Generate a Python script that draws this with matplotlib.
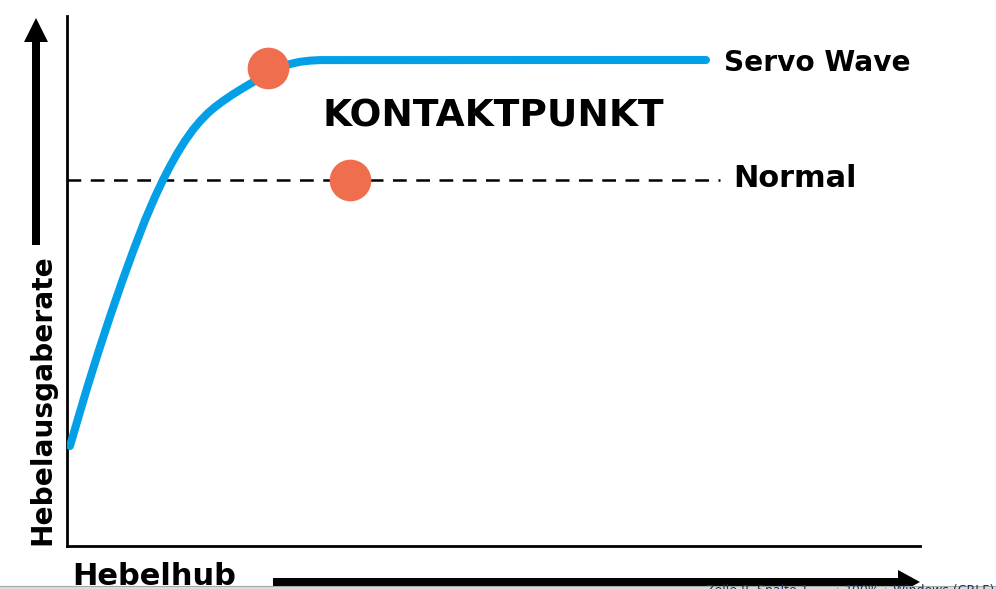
import matplotlib
matplotlib.use('Agg')
import matplotlib.pyplot as plt
from matplotlib.patches import FancyArrow, Rectangle

# curve "Servo Wave" (x: lever travel 0-100, y: output rate 0-100)
SERVO_X = [0.35, 1.29, 2.34, 3.63, 5.04, 6.45, 7.74, 9.14, 10.32, 11.25,
           12.08, 12.90, 13.83, 14.77, 15.59, 16.53, 17.35, 18.29, 19.34,
           20.28, 21.45, 22.63, 23.80, 24.97, 26.14, 27.32, 28.49, 29.66,
           74.91]
SERVO_Y = [18.87, 24.04, 29.74, 36.38, 43.28, 49.85, 55.57, 61.45, 65.89,
           69.06, 71.64, 74.02, 76.43, 78.55, 80.13, 81.70, 82.83, 83.96,
           85.11, 86.06, 87.19, 88.28, 89.32, 90.26, 90.94, 91.36, 91.58,
           91.68, 91.70]
NORMAL_Y = 69.1
NORMAL_X = [0, 76.6]
CONTACT_X = [23.56, 33.18]
CONTACT_Y = [90.28, 69.1]

BLUE = '#03a0e8'
DOT = '#ee6e4e'

W, H = 996, 589
fig = plt.figure(figsize=(W / 100, H / 100), dpi=100)

ax = fig.add_axes([67 / W, (H - 546) / H, (920 - 67) / W, (546 - 16) / H])
ax.set_xlim(0, 100)
ax.set_ylim(0, 100)
for s in ['top', 'right']:
    ax.spines[s].set_visible(False)
for s in ['left', 'bottom']:
    ax.spines[s].set_linewidth(2.0)
ax.set_xticks([])
ax.set_yticks([])

ax.plot(NORMAL_X, [NORMAL_Y, NORMAL_Y], color='black', lw=1.8,
        dashes=(5.5, 3.8), zorder=2)
ax.plot(SERVO_X, SERVO_Y, color=BLUE, lw=5.8, solid_capstyle='round',
        solid_joinstyle='round', zorder=3)
ax.plot(CONTACT_X, CONTACT_Y, 'o', color=DOT, ms=30, mew=0, zorder=4)

ax.text(77.0, 89.6, 'Servo Wave', fontsize=20.2, fontweight='bold',
        ha='left', va='baseline')
ax.text(78.1, 67.7, 'Normal', fontsize=21.9, fontweight='bold',
        ha='left', va='baseline')
ax.text(50.0, 79.1, 'KONTAKTPUNKT', fontsize=27, fontweight='bold',
        ha='center', va='baseline')

# overlay in pixel units for arrows, axis names and the status bar strip
ov = fig.add_axes([0, 0, 1, 1], facecolor='none')
ov.set_xlim(0, W)
ov.set_ylim(H, 0)
ov.axis('off')

ov.add_patch(FancyArrow(36, 245, 0, -227, width=8, head_width=24,
                        head_length=24, length_includes_head=True,
                        color='black', lw=0))
ov.add_patch(FancyArrow(273, 582, 647, 0, width=8, head_width=24,
                        head_length=22, length_includes_head=True,
                        color='black', lw=0))

ov.text(50, 545, 'Hebelausgaberate', fontsize=20.2, fontweight='bold',
        rotation=90, rotation_mode='anchor', ha='left', va='baseline')
ov.text(72, 585, 'Hebelhub', fontsize=22, fontweight='bold',
        ha='left', va='baseline')

# editor status bar peeking in at the bottom
ov.add_patch(Rectangle((0, 585.5), W, 10, facecolor='#dcdcdc',
                       edgecolor='none', zorder=5))
ov.plot([0, W], [585.5, 585.5], color='#a8a8a8', lw=0.8, zorder=6)
for xs in [837, 885]:
    ov.plot([xs, xs], [586, H], color='#b0b0b0', lw=0.8, zorder=6)
for xt, label in [(706, 'Zelle 8, Spalte 1'), (845, '100%'),
                  (893, 'Windows (CRLF)')]:
    ov.text(xt, 584, label, fontsize=9, color='#1f2f55', ha='left',
            va='top', zorder=7, clip_on=True)

fig.savefig('out.png', dpi=100)
